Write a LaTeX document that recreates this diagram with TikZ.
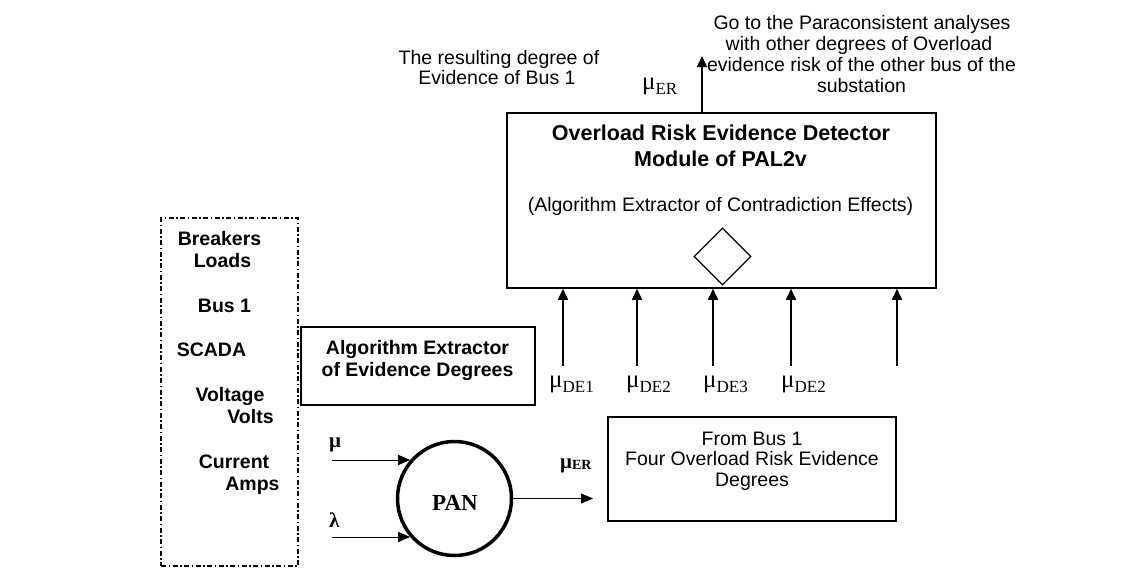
\documentclass[tikz,border=0pt]{standalone}
\usepackage{fontspec}
\setmainfont{Liberation Sans}
\newfontfamily\serifgr{Liberation Serif}
\usetikzlibrary{arrows.meta,shapes.geometric}
\newcommand\mulabel[1]{{\fontsize{25}{25}\selectfont μ}\raisebox{-5pt}{\fontsize{17}{17}\selectfont #1}}
\newcommand\mubold[1]{{\fontsize{21}{21}\selectfont\bfseries μ}\raisebox{-1.5pt}{\fontsize{14}{14}\selectfont\bfseries #1}}
\begin{document}
\begin{tikzpicture}[x=1pt,y=-1pt,
  frame/.style={draw, line width=1.5pt, rectangle, inner sep=0pt},
  dashframe/.style={draw, line width=1.2pt, rectangle, inner sep=0pt, dash pattern=on 5pt off 2.5pt on 1.5pt off 2.5pt},
  bigarrow/.style={-{Triangle[length=11pt,width=10pt]}, line width=1.4pt},
  smallarrow/.style={-{Triangle[length=12pt,width=10pt]}, line width=1pt},
  txt/.style={font=\fontsize{19.5}{21}\selectfont, inner sep=0pt, anchor=base},
  btxt/.style={font=\fontsize{19.5}{21}\selectfont\bfseries, inner sep=0pt, anchor=base},
  ttl/.style={font=\fontsize{21.5}{26}\selectfont\bfseries, inner sep=0pt, anchor=base},
  grk/.style={font=\serifgr, inner sep=0pt, anchor=base west},
]
\useasboundingbox (0,0) rectangle (1143,568);

% detector module
\node[frame, minimum width=429pt, minimum height=175pt] (det) at (721.5,200.5) {};
\node[ttl] (t1) at (721,140.7) {Overload Risk Evidence Detector};
\node[ttl] (t2) at (720.5,166) {Module of PAL2v};
\node[txt] (t3) at (720.5,211.5) {(Algorithm Extractor of Contradiction Effects)};
\node[draw, diamond, line width=1.2pt, minimum width=57pt, minimum height=57pt, inner sep=0pt, aspect=1] (dia) at (722.5,256.5) {};

% output upwards
\coordinate (goto) at (702,56);
\draw[bigarrow] (det.north -| goto) -- (goto);
\node[grk] (muer) at (642,89.5) {\mulabel{ER}};
\node[txt] (r1) at (499,64) {The resulting degree of};
\node[txt] (r2) at (497,84.5) {Evidence of Bus 1};
\node[txt] (g1) at (862,29.3) {Go to the Paraconsistent analyses};
\node[txt] (g2) at (859,50.5) {with other degrees of Overload};
\node[txt] (g3) at (861.5,71.5) {evidence risk of the other bus of the};
\node[txt] (g4) at (861.5,92.5) {substation};

% inputs to module
\coordinate (in1) at (563,366);
\coordinate (in2) at (637,366);
\coordinate (in3) at (713,366);
\coordinate (in4) at (791,366);
\coordinate (in5) at (897,366);
\foreach \c in {in1,in2,in3,in4,in5}{\draw[bigarrow] (\c) -- (\c |- det.south);}
\node[grk] (l1) at (549,387.5) {\mulabel{DE1}};
\node[grk] (l2) at (626,387.5) {\mulabel{DE2}};
\node[grk] (l3) at (703,387.5) {\mulabel{DE3}};
\node[grk] (l4) at (781,387.5) {\mulabel{DE2}};

% source box
\node[dashframe, minimum width=137pt, minimum height=348pt] (src) at (229.5,392) {};
\node[btxt] (s1) at (219.5,245.7) {Breakers};
\node[btxt] (s2) at (222.5,267.7) {Loads};
\node[btxt] (s3) at (224.5,312.3) {Bus 1};
\node[btxt] (s4) at (211.5,356.7) {SCADA};
\node[btxt] (s5) at (230,401.7) {Voltage};
\node[btxt] (s6) at (250.5,423.3) {Volts};
\node[btxt] (s7) at (234,468.3) {Current};
\node[btxt] (s8) at (252.5,490.7) {Amps};

% algorithm extractor
\node[frame, minimum width=234pt, minimum height=78pt] (alg) at (418,366) {};
\node[btxt] (a1) at (417.5,354) {Algorithm Extractor};
\node[btxt] (a2) at (417.5,376) {of Evidence Degrees};

% PAN
\node[circle, draw, line width=3.5pt, minimum size=114pt, inner sep=0pt] (pan) at (454.5,498.5) {};
\node[font=\serifgr\bfseries\fontsize{23}{23}\selectfont, anchor=base, inner sep=0pt] (pantext) at (455,510.7) {PAN};
\coordinate (muin) at (332,460);
\coordinate (lain) at (332,537);
\draw[smallarrow] (muin) -- (muin -| pan.139);
\draw[smallarrow] (lain) -- (lain -| pan.221);
\node[grk, font=\serifgr\bfseries\fontsize{21}{21}\selectfont] (mu) at (329,447) {μ};
\node[grk, font=\serifgr\bfseries\fontsize{21}{21}\selectfont] (la) at (329,527) {λ};
\coordinate (muout) at (593,498.5);
\draw[smallarrow] (pan.east) -- (muout);
\node[grk] (muer2) at (560,468) {\mubold{ER}};

% from bus box
\node[frame, minimum width=288pt, minimum height=104pt] (fb) at (752,469) {};
\node[txt] (f1) at (752,445) {From Bus 1};
\node[txt] (f2) at (752,465.5) {Four Overload Risk Evidence};
\node[txt] (f3) at (752,486) {Degrees};
\end{tikzpicture}
\end{document}
